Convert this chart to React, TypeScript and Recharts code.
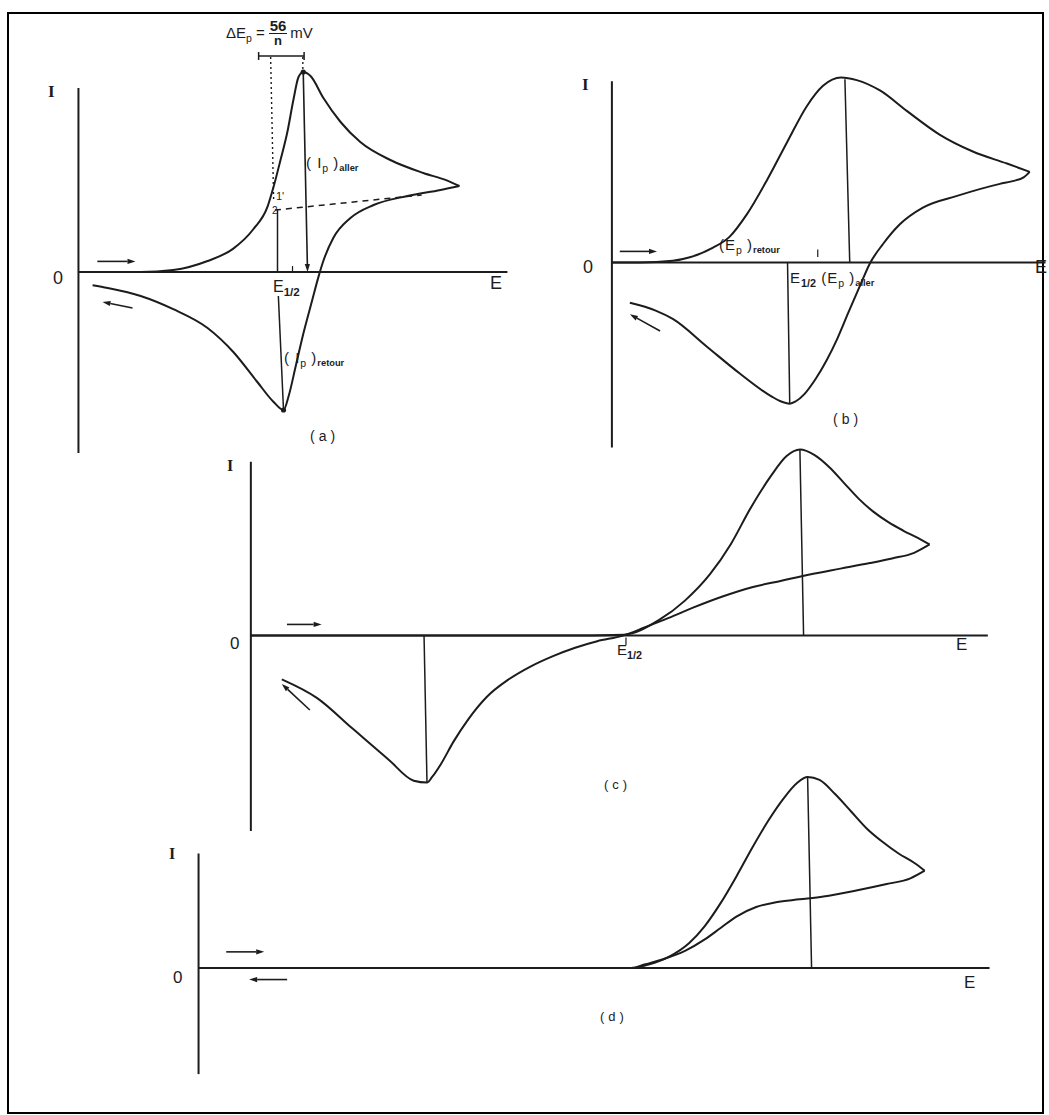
import React from 'react';
import {
  ComposedChart, Line, XAxis, YAxis, ReferenceLine, ReferenceDot,
} from 'recharts';

type Pt = [number, number];

const INK = '#1c1c1c';

// E runs 0..100 along each potential axis, I is scaled to the forward peak (=1)

// (a) reversible system
const aForward: Pt[] = [
  [0, 0], [14.5, 0], [22.1, 0.01], [30.1, 0.055], [36.1, 0.117], [40.8, 0.215],
  [44.1, 0.328], [45.5, 0.427], [47.1, 0.56], [48.7, 0.7], [50.1, 0.86], [51.3, 0.975],
  [52.4, 1.0], [54.1, 0.98], [57.1, 0.87], [61.1, 0.75], [65.7, 0.65], [72.7, 0.56],
  [80.4, 0.495], [86.0, 0.457], [88.8, 0.43],
];
const aReturn: Pt[] = [
  [88.8, 0.43], [84.4, 0.41], [76.7, 0.38], [68.8, 0.335], [63.4, 0.27], [59.4, 0.17],
  [57.1, 0.056], [55.9, -0.028], [54.5, -0.14], [52.4, -0.31], [50.6, -0.475], [49.0, -0.62],
  [47.8, -0.69], [45.5, -0.65], [41.7, -0.55], [36.1, -0.4], [30.1, -0.28], [22.1, -0.186],
  [14.5, -0.12], [6.8, -0.08], [3.3, -0.066],
];

// (b) quasi-reversible
const bForward: Pt[] = [
  [0, 0], [6.4, 0], [13.9, 0.009], [17.8, 0.028], [23.1, 0.08], [26.9, 0.14], [30.8, 0.26],
  [35.4, 0.445], [40.0, 0.65], [44.5, 0.845], [48.2, 0.955], [52.3, 1.0], [55.9, 0.986],
  [61.2, 0.93], [67.4, 0.818], [74.9, 0.69], [82.4, 0.6], [90.2, 0.535], [95.4, 0.49],
];
const bReturn: Pt[] = [
  [95.4, 0.49], [94.0, 0.46], [91.5, 0.44], [88.6, 0.425], [78.8, 0.36], [71.0, 0.297],
  [65.8, 0.208], [61.9, 0.1], [58.9, -0.005], [56.6, -0.128], [54.0, -0.27], [51.5, -0.41],
  [49.0, -0.53], [46.5, -0.63], [44.0, -0.71], [42.0, -0.75], [40.6, -0.763], [38.5, -0.75],
  [36.5, -0.725], [29.2, -0.6], [21.7, -0.455], [13.9, -0.305], [10.0, -0.26], [4.1, -0.218],
];

// (c) slow system
const cForward: Pt[] = [
  [0, 0], [20, 0], [42, 0], [50.6, 0.005], [55.4, 0.084], [58.9, 0.188], [62.3, 0.33],
  [65.1, 0.49], [67.8, 0.685], [70.6, 0.86], [72.7, 0.965], [74.5, 1.0], [76.5, 0.97],
  [78.5, 0.905], [80.5, 0.82], [82.5, 0.735], [84.5, 0.665], [86.5, 0.61], [88.5, 0.565],
  [90.5, 0.525], [92.1, 0.49],
];
const cReturn: Pt[] = [
  [92.1, 0.49], [90.0, 0.445], [87.0, 0.415], [84.0, 0.39], [80.0, 0.36], [76.0, 0.33],
  [72.0, 0.295], [68.0, 0.26], [64.0, 0.21], [60.0, 0.15], [56.7, 0.095], [53.5, 0.045],
  [50.5, 0.0], [47.0, -0.03], [44.0, -0.065], [41.0, -0.11], [38.0, -0.165], [35.0, -0.235],
  [32.0, -0.33], [29.5, -0.45], [27.5, -0.57], [25.8, -0.69], [24.6, -0.76], [23.9, -0.79],
  [22.1, -0.78], [18.7, -0.667], [13.8, -0.5], [9.0, -0.336], [4.2, -0.235],
];

// (d) irreversible, no return peak
const dForward: Pt[] = [
  [0, 0], [30, 0], [54.7, 0], [57.0, 0.02], [59.5, 0.06], [62.0, 0.13], [64.0, 0.22],
  [66.0, 0.34], [68.0, 0.48], [70.0, 0.63], [72.0, 0.77], [74.0, 0.89], [75.7, 0.97],
  [77.0, 1.0], [78.5, 0.985], [80.5, 0.91], [82.5, 0.82], [84.5, 0.73], [86.5, 0.66],
  [88.5, 0.6], [90.5, 0.55], [91.8, 0.51],
];
const dReturn: Pt[] = [
  [91.8, 0.51], [90.0, 0.47], [87.0, 0.44], [83.0, 0.405], [79.0, 0.375], [76.0, 0.36],
  [73.0, 0.345], [70.5, 0.32], [68.0, 0.27], [66.0, 0.21], [64.0, 0.15], [61.5, 0.09],
  [59.0, 0.05], [56.5, 0.02], [54.7, 0], [30, 0], [0, 0],
];

// page placement of each panel: origin in px, px per unit, visible domain
interface Frame { ox: number; oy: number; sx: number; sy: number; e: Pt; i: Pt }
const FRAMES: Record<string, Frame> = {
  a: { ox: 78, oy: 272, sx: 4.29, sy: 200, e: [-5, 105], i: [-1.0, 1.15] },
  b: { ox: 612, oy: 262, sx: 4.38, sy: 185, e: [-5, 99.5], i: [-1.05, 1.1] },
  c: { ox: 251, oy: 636, sx: 7.37, sy: 186, e: [-5, 105], i: [-1.1, 1.1] },
  d: { ox: 199, oy: 968, sx: 7.91, sy: 191, e: [-5, 105], i: [-0.7, 1.1] },
};

const toRows = (pts: Pt[]) =>
  [...pts].sort((p, q) => p[0] - q[0]).map(([e, i]) => ({ e, i }));

const ArrowShape = (p: any) => {
  const { x1, y1, x2, y2 } = p;
  const ang = Math.atan2(y2 - y1, x2 - x1);
  const len = 8;
  const half = 2.6;
  const bx = x2 - len * Math.cos(ang);
  const by = y2 - len * Math.sin(ang);
  const nx = -Math.sin(ang) * half;
  const ny = Math.cos(ang) * half;
  return (
    <g>
      <line x1={x1} y1={y1} x2={bx} y2={by} stroke={INK} strokeWidth={1.6} />
      <polygon points={`${x2},${y2} ${bx + nx},${by + ny} ${bx - nx},${by - ny}`} fill={INK} />
    </g>
  );
};

let segId = 0;
const seg = (from: Pt, to: Pt, opts: { w?: number; dash?: string; arrow?: boolean } = {}) => (
  <ReferenceLine
    key={`s${segId++}`}
    segment={[{ x: from[0], y: from[1] }, { x: to[0], y: to[1] }]}
    stroke={INK}
    strokeWidth={opts.w ?? 1.6}
    strokeDasharray={opts.dash}
    shape={opts.arrow ? ArrowShape : undefined}
  />
);

interface PanelProps {
  f: Frame;
  forward: Pt[];
  back: Pt[];
  axisTop: number;
  axisBottom: number;
  axisEnd: number;
  extras: React.ReactNode[];
}

const Panel = ({ f, forward, back, axisTop, axisBottom, axisEnd, extras }: PanelProps) => {
  const left = f.ox + f.e[0] * f.sx;
  const width = (f.e[1] - f.e[0]) * f.sx;
  const top = f.oy - f.i[1] * f.sy;
  const height = (f.i[1] - f.i[0]) * f.sy;
  return (
    <div style={{ position: 'absolute', left, top, width, height }}>
      <ComposedChart width={width} height={height} margin={{ top: 0, right: 0, bottom: 0, left: 0 }}>
        <XAxis type="number" dataKey="e" domain={f.e} hide allowDataOverflow />
        <YAxis type="number" dataKey="i" domain={f.i} hide allowDataOverflow />
        {seg([0, axisBottom], [0, axisTop], { w: 2 })}
        {seg([0, 0], [axisEnd, 0], { w: 2 })}
        {extras}
        <Line data={toRows(forward)} dataKey="i" type="monotone" stroke={INK} strokeWidth={2}
          dot={false} activeDot={false} isAnimationActive={false} />
        <Line data={toRows(back)} dataKey="i" type="monotone" stroke={INK} strokeWidth={2}
          dot={false} activeDot={false} isAnimationActive={false} />
      </ComposedChart>
    </div>
  );
};

const Txt = ({ x, y, size = 15, children, style }: {
  x: number; y: number; size?: number; children: React.ReactNode; style?: React.CSSProperties;
}) => (
  <span style={{
    position: 'absolute', left: x, top: y, fontSize: size, lineHeight: 1,
    whiteSpace: 'pre', color: INK, ...style,
  }}>
    {children}
  </span>
);

const Sub = ({ children, size = 0.7, bold = false }: { children: React.ReactNode; size?: number; bold?: boolean }) => (
  <span style={{
    fontSize: `${size}em`, position: 'relative', top: '0.35em',
    fontWeight: bold ? 700 : 400, letterSpacing: 0,
  }}>
    {children}
  </span>
);

const AXIS_I: React.CSSProperties = { fontFamily: '"Liberation Serif", serif', fontWeight: 700 };

export default function App() {
  const aExtras = [
    // delta Ep bracket and dotted guides
    seg([42, 1.08], [52.6, 1.08], { w: 1.5 }),
    seg([42, 1.06], [42, 1.1], { w: 1.5 }),
    seg([52.6, 1.06], [52.6, 1.1], { w: 1.5 }),
    seg([44.8, 1.075], [45.5, 0.36], { w: 1.4, dash: '2 3' }),
    seg([52.3, 1.075], [52.3, 1.01], { w: 1.4, dash: '2 3' }),
    // extrapolated baseline
    seg([45.8, 0.31], [80, 0.385], { w: 1.5, dash: '6 5' }),
    // peak currents
    seg([52.4, 1.0], [53.4, 0.0], { w: 1.5, arrow: true }),
    seg([46.4, 0.31], [46.4, 0.0], { w: 1.5 }),
    seg([46.6, -0.12], [47.8, -0.69], { w: 1.5 }),
    seg([49.9, 0.0], [49.9, 0.03], { w: 1.2 }),
    // scan direction
    seg([4.4, 0.053], [13.3, 0.053], { arrow: true }),
    seg([12.6, -0.18], [5.6, -0.15], { arrow: true }),
    <ReferenceDot key="apk" x={52.4} y={1.0} r={2.6} fill={INK} stroke="none" />,
    <ReferenceDot key="amn" x={47.8} y={-0.69} r={2.6} fill={INK} stroke="none" />,
  ];
  const bExtras = [
    seg([53.2, 0.99], [54.3, 0.0], { w: 1.5 }),
    seg([40.1, 0.0], [40.6, -0.76], { w: 1.5 }),
    seg([47.0, 0.03], [47.0, 0.07], { w: 1.2 }),
    seg([1.8, 0.06], [10.3, 0.06], { arrow: true }),
    seg([11, -0.37], [4.1, -0.28], { arrow: true }),
  ];
  const cExtras = [
    seg([74.5, 1.0], [75.0, 0.0], { w: 1.5 }),
    seg([23.5, 0.0], [23.9, -0.79], { w: 1.5 }),
    seg([50.9, -0.01], [50.9, -0.05], { w: 1.2 }),
    seg([4.9, 0.06], [9.6, 0.06], { arrow: true }),
    seg([8.0, -0.4], [4.2, -0.26], { arrow: true }),
  ];
  const dExtras = [
    seg([77.0, 1.0], [77.5, 0.0], { w: 1.5 }),
    seg([3.5, 0.085], [8.3, 0.085], { arrow: true }),
    seg([11.2, -0.06], [6.4, -0.06], { arrow: true }),
  ];

  return (
    <div style={{
      position: 'absolute', left: 0, top: 0, width: 1049, height: 1115, background: '#fff',
      overflow: 'hidden', fontFamily: '"Liberation Sans", Arial, sans-serif',
    }}>
      <div style={{
        position: 'absolute', left: 7, top: 12, width: 1033, height: 1098,
        border: `2px solid #000`,
      }} />

      <Panel f={FRAMES.a} forward={aForward} back={aReturn} axisTop={0.92} axisBottom={-0.905} axisEnd={100} extras={aExtras} />
      <Panel f={FRAMES.b} forward={bForward} back={bReturn} axisTop={0.98} axisBottom={-1.0} axisEnd={99} extras={bExtras} />
      <Panel f={FRAMES.c} forward={cForward} back={cReturn} axisTop={0.935} axisBottom={-1.05} axisEnd={100} extras={cExtras} />
      <Panel f={FRAMES.d} forward={dForward} back={dReturn} axisTop={0.6} axisBottom={-0.555} axisEnd={100} extras={dExtras} />

      {/* (a) */}
      <div style={{ position: 'absolute', left: 226, top: 18, display: 'flex', alignItems: 'center', fontSize: 15, color: INK }}>
        <span>ΔE<Sub>p</Sub></span>
        <span style={{ margin: '0 4px' }}>=</span>
        <span style={{ display: 'inline-flex', flexDirection: 'column', alignItems: 'center', lineHeight: 1, fontWeight: 700 }}>
          <span style={{ borderBottom: `1.5px solid ${INK}`, padding: '0 1px' }}>56</span>
          <span style={{ fontSize: 13 }}>n</span>
        </span>
        <span style={{ marginLeft: 3 }}>mV</span>
      </div>
      <Txt x={48} y={83} size={17} style={AXIS_I}>I</Txt>
      <Txt x={53} y={269} size={18}>0</Txt>
      <Txt x={490} y={274} size={18}>E</Txt>
      <Txt x={273} y={279} size={16}>E<Sub size={0.72} bold>1/2</Sub></Txt>
      <Txt x={306} y={155} size={15} style={{ letterSpacing: 1 }}>( I<Sub>p</Sub> )<Sub size={0.62} bold>aller</Sub></Txt>
      <Txt x={284} y={350} size={15} style={{ letterSpacing: 1 }}>( I<Sub>p</Sub> )<Sub size={0.62} bold>retour</Sub></Txt>
      <Txt x={310} y={429} size={14} style={{ letterSpacing: 4 }}>(a)</Txt>
      <Txt x={276} y={191} size={11}>1'</Txt>
      <Txt x={272} y={206} size={10}>2</Txt>

      {/* (b) */}
      <Txt x={582} y={76} size={17} style={AXIS_I}>I</Txt>
      <Txt x={583} y={258} size={18}>0</Txt>
      <Txt x={1035} y={258} size={18}>E</Txt>
      <Txt x={719} y={237} size={15} style={{ letterSpacing: 1 }}>(E<Sub>p</Sub> )<Sub size={0.62} bold>retour</Sub></Txt>
      <Txt x={790} y={270} size={15} style={{ letterSpacing: 1 }}>E<Sub size={0.72} bold>1/2</Sub> (E<Sub>p</Sub> )<Sub size={0.62} bold>aller</Sub></Txt>
      <Txt x={833} y={412} size={14} style={{ letterSpacing: 4 }}>(b)</Txt>

      {/* (c) */}
      <Txt x={227} y={458} size={16} style={AXIS_I}>I</Txt>
      <Txt x={230} y={635} size={17}>0</Txt>
      <Txt x={956} y={636} size={17}>E</Txt>
      <Txt x={617} y={642} size={15}>E<Sub size={0.72} bold>1/2</Sub></Txt>
      <Txt x={604} y={778} size={13} style={{ letterSpacing: 4 }}>(c)</Txt>

      {/* (d) */}
      <Txt x={169} y={846} size={16} style={AXIS_I}>I</Txt>
      <Txt x={173} y={969} size={17}>0</Txt>
      <Txt x={964} y={974} size={17}>E</Txt>
      <Txt x={600} y={1010} size={13} style={{ letterSpacing: 4 }}>(d)</Txt>
    </div>
  );
}
